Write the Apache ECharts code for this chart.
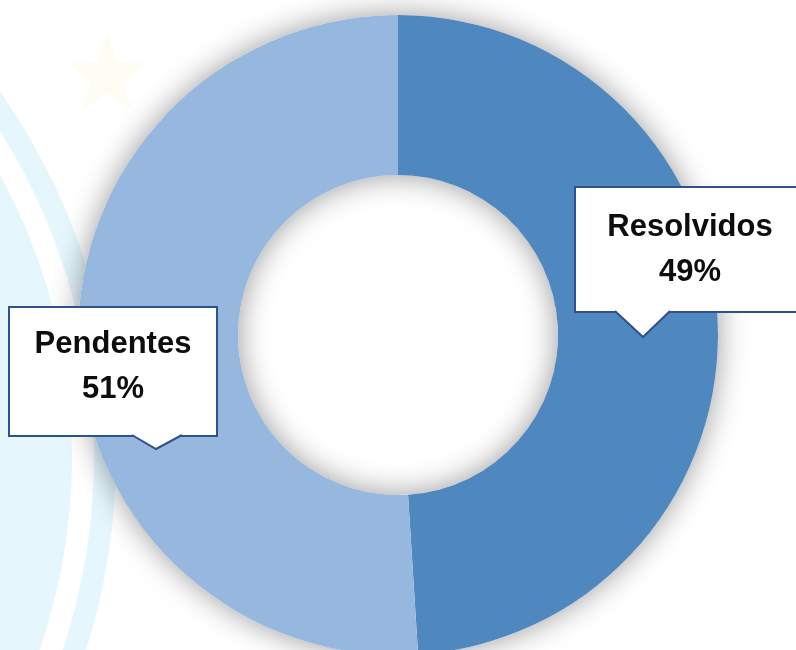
<!DOCTYPE html>
<html>
<head>
<meta charset="utf-8">
<script src="https://cdn.jsdelivr.net/npm/echarts@6/dist/echarts.min.js"></script>
<style>
  html, body { margin: 0; padding: 0; background: #ffffff; }
  #chart { width: 796px; height: 650px; }
</style>
</head>
<body>
<div id="chart"></div>
<script>
// Status of the cases: share resolved vs. still pending
const categories = ['Resolvidos', 'Pendentes'];
const values = [49, 51];
const sliceColors = ['#4F88BE', '#96B7DE'];

// Geometry of the ring
const CENTER = [398, 335];
const RADIUS = [160, 320];

const LINE_H = 45;

// Callout boxes: top-centre of each box, its size and where its pointer sits
const callouts = [
  { cx: 690, top: 188, width: 228, pad: [17, 0, 16, 0], pointer: { left: 615, right: 670, tip: [643, 337] } },
  { cx: 113, top: 308, width: 206, pad: [14, 0, 23, 0], pointer: { left: 132, right: 182, tip: [156, 449] } }
];

const BORDER = '#2F528F';
const FONT = '"Liberation Sans", Arial, sans-serif';

function boxBottom(c) {
  return c.top + c.pad[0] + c.pad[2] + 2 * LINE_H;
}

// Pointer triangles hanging under each callout box
function pointerGraphics() {
  const out = [];
  callouts.forEach(c => {
    const yb = boxBottom(c);
    const p = c.pointer;
    out.push({
      type: 'polygon', z: 100,
      shape: { points: [[p.left - 1, yb - 3], [p.right + 1, yb - 3], [p.right, yb], p.tip, [p.left, yb]] },
      style: { fill: '#ffffff' }
    });
    out.push({
      type: 'polyline', z: 101,
      shape: { points: [[p.left, yb], p.tip, [p.right, yb]] },
      style: { stroke: BORDER, lineWidth: 2, fill: null }
    });
  });
  return out;
}

// Faint five-pointed star in the backdrop
function starPoints(cx, cy, R, r) {
  const pts = [];
  for (let i = 0; i < 10; i++) {
    const rad = i % 2 === 0 ? R : r;
    const a = -Math.PI / 2 + i * Math.PI / 5;
    pts.push([cx + rad * Math.cos(a), cy + rad * Math.sin(a)]);
  }
  return pts;
}

// Pale blue sweeping bands on the left side of the backdrop
const bandCenter = [-518, 457];
const backdrop = [
  { type: 'circle', z: -10, silent: true, shape: { cx: bandCenter[0], cy: bandCenter[1], r: 634 }, style: { fill: '#E5F6FD' } },
  { type: 'circle', z: -10, silent: true, shape: { cx: bandCenter[0], cy: bandCenter[1], r: 612 }, style: { fill: '#ffffff' } },
  { type: 'circle', z: -10, silent: true, shape: { cx: bandCenter[0], cy: bandCenter[1], r: 590 }, style: { fill: '#E5F6FD' } },
  { type: 'polygon', z: -10, silent: true, shape: { points: starPoints(107, 76, 43, 17) }, style: { fill: '#FDFDF4' } }
];

const chart = echarts.init(document.getElementById('chart'), null, { renderer: 'canvas' });

const data = categories.map((name, i) => ({
  name: name,
  value: values[i],
  itemStyle: { color: sliceColors[i] },
  label: {
    width: callouts[i].width,
    padding: callouts[i].pad
  }
}));

chart.setOption({
  backgroundColor: '#ffffff',
  animation: false,
  graphic: backdrop.concat(pointerGraphics()),
  series: [
    {
      // soft drop shadow under the ring
      type: 'pie',
      silent: true,
      z: 1,
      center: CENTER,
      radius: RADIUS,
      label: { show: false },
      labelLine: { show: false },
      data: [{ value: 1, itemStyle: { color: '#ffffff', shadowBlur: 30, shadowColor: 'rgba(0,0,0,0.4)' } }]
    },
    {
      type: 'pie',
      z: 2,
      center: CENTER,
      radius: RADIUS,
      startAngle: 90,
      clockwise: true,
      avoidLabelOverlap: false,
      emphasis: { disabled: true },
      itemStyle: { borderWidth: 0 },
      label: {
        show: true,
        position: 'outside',
        formatter: '{b}\n{d}%',
        color: '#0D0D0D',
        fontFamily: FONT,
        fontWeight: 'bold',
        fontSize: 31,
        lineHeight: LINE_H,
        align: 'center',
        verticalAlign: 'top',
        backgroundColor: '#ffffff',
        borderColor: BORDER,
        borderWidth: 2
      },
      labelLine: { show: false },
      labelLayout: function (params) {
        const c = callouts[params.dataIndex];
        return { x: c.cx, y: c.top, align: 'center', verticalAlign: 'top' };
      },
      data: data
    }
  ]
});
</script>
</body>
</html>
